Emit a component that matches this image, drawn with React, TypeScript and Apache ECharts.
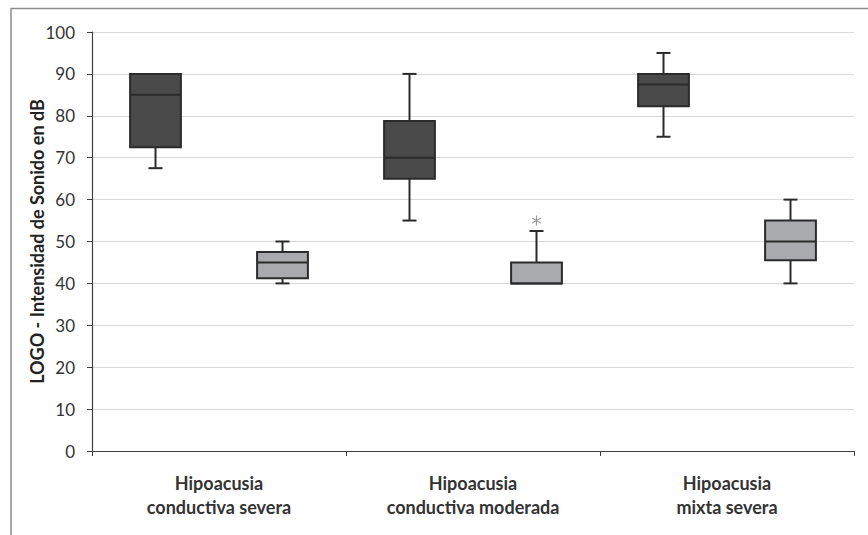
import React, { useEffect, useRef } from "react";
import * as echarts from "echarts";

const categories = [
  "Hipoacusia\nconductiva severa",
  "Hipoacusia\nconductiva moderada",
  "Hipoacusia\nmixta severa",
];
// [min, Q1, median, Q3, max]
const darkBoxes = [
  [67.5, 72.5, 85, 90, 90],
  [55, 65, 70, 78.75, 90],
  [75, 82.25, 87.5, 90, 95],
];
const lightBoxes = [
  [40, 41.25, 45, 47.5, 50],
  [40, 40, 40, 45, 52.5],
  [40, 45.5, 50, 55, 60],
];
// [category index, value] for the light group
const lightOutliers = [[1, 55]];
const yTicks = { min: 0, max: 100, interval: 10 };

const FONT = "Lato, 'Open Sans', sans-serif";

function boxRenderer(offsetFrac: number, fill: string) {
  return (params: any, api: any) => {
    const idx = api.value(0);
    const band = api.size([1, 0])[0];
    const cx = api.coord([idx, 0])[0] + band * offsetFrac;
    const w = band * 0.2;
    const y = (v: number) => api.coord([idx, v])[1];
    const vMin = api.value(1), q1 = api.value(2), med = api.value(3), q3 = api.value(4), vMax = api.value(5);
    const stroke = "#2b2b2b";
    const lw = 2;
    const cap = 7;
    const children: any[] = [];
    if (vMax > q3) {
      children.push({ type: "line", shape: { x1: cx, y1: y(q3), x2: cx, y2: y(vMax) }, style: { stroke, lineWidth: lw } });
      children.push({ type: "line", shape: { x1: cx - cap, y1: y(vMax), x2: cx + cap, y2: y(vMax) }, style: { stroke, lineWidth: lw } });
    }
    if (vMin < q1) {
      children.push({ type: "line", shape: { x1: cx, y1: y(q1), x2: cx, y2: y(vMin) }, style: { stroke, lineWidth: lw } });
      children.push({ type: "line", shape: { x1: cx - cap, y1: y(vMin), x2: cx + cap, y2: y(vMin) }, style: { stroke, lineWidth: lw } });
    }
    children.push({
      type: "rect",
      shape: { x: cx - w / 2, y: y(q3), width: w, height: y(q1) - y(q3) },
      style: { fill, stroke, lineWidth: lw },
    });
    children.push({ type: "line", shape: { x1: cx - w / 2, y1: y(med), x2: cx + w / 2, y2: y(med) }, style: { stroke, lineWidth: lw } });
    return { type: "group", children };
  };
}

function outlierRenderer(offsetFrac: number) {
  return (params: any, api: any) => {
    const idx = api.value(0);
    const band = api.size([1, 0])[0];
    const p = api.coord([idx, api.value(1)]);
    const cx = p[0] + band * offsetFrac;
    const cy = p[1];
    const r = 5;
    const s = { stroke: "#9a9a9a", lineWidth: 1.2 };
    const a = r * Math.cos(Math.PI / 6);
    const b = r * Math.sin(Math.PI / 6);
    return {
      type: "group",
      children: [
        { type: "line", shape: { x1: cx, y1: cy - r, x2: cx, y2: cy + r }, style: s },
        { type: "line", shape: { x1: cx - a, y1: cy - b, x2: cx + a, y2: cy + b }, style: s },
        { type: "line", shape: { x1: cx - a, y1: cy + b, x2: cx + a, y2: cy - b }, style: s },
      ],
    };
  };
}

export default function App() {
  const ref = useRef<HTMLDivElement>(null);
  useEffect(() => {
    if (!ref.current) return;
    const chart = echarts.init(ref.current, null, { renderer: "svg" });
    chart.setOption({
      animation: false,
      backgroundColor: "#ffffff",
      graphic: [
        {
          type: "rect",
          shape: { x: 11, y: 8.5, width: 1000, height: 1000 },
          style: { fill: "none", stroke: "#8c8c8c", lineWidth: 1.5 },
          silent: true,
          z: -1,
        },
      ],
      grid: { left: 92, right: 14, top: 32, bottom: 84, containLabel: false },
      xAxis: {
        type: "category",
        data: categories,
        boundaryGap: true,
        axisLine: { lineStyle: { color: "#404040", width: 1.2 } },
        axisTick: { show: true, length: 5, alignWithLabel: false, lineStyle: { color: "#404040" } },
        axisLabel: {
          interval: 0,
          margin: 20,
          fontFamily: FONT,
          fontWeight: "bold",
          fontSize: 18,
          lineHeight: 24,
          color: "#333333",
          align: "center",
        },
        splitLine: { show: false },
      },
      yAxis: {
        type: "value",
        min: yTicks.min,
        max: yTicks.max,
        interval: yTicks.interval,
        name: "LOGO - Intensidad de Sonido en dB",
        nameLocation: "middle",
        nameGap: 46,
        nameMoveOverlap: false,
        nameTextStyle: { fontFamily: FONT, fontWeight: "bold", fontSize: 18, color: "#222222" },
        axisLine: { show: true, lineStyle: { color: "#404040", width: 1.2 } },
        axisTick: { show: true, length: 5, inside: false, lineStyle: { color: "#404040" } },
        axisLabel: { fontFamily: FONT, fontSize: 17, color: "#333333", margin: 17 },
        splitLine: { lineStyle: { color: "#d9d9d9", width: 1.2 } },
      },
      series: [
        {
          type: "custom",
          renderItem: boxRenderer(-0.25, "#4a4a4b"),
          data: darkBoxes.map((b, i) => [i, ...b]),
          encode: { x: 0, y: [1, 2, 3, 4, 5] },
          z: 3,
        },
        {
          type: "custom",
          renderItem: boxRenderer(0.25, "#a9aaad"),
          data: lightBoxes.map((b, i) => [i, ...b]),
          encode: { x: 0, y: [1, 2, 3, 4, 5] },
          z: 3,
        },
        {
          type: "custom",
          renderItem: outlierRenderer(0.25),
          data: lightOutliers,
          encode: { x: 0, y: 1 },
          z: 3,
        },
      ],
    });
    return () => chart.dispose();
  }, []);
  return <div ref={ref} style={{ width: 868, height: 535, position: "absolute", left: 0, top: 0 }} />;
}
